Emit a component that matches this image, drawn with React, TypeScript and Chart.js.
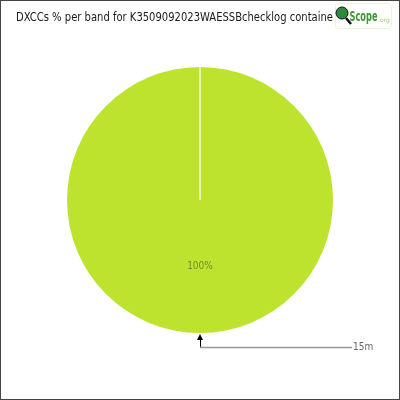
import React, { useEffect, useRef } from "react";
import { Chart, registerables } from "chart.js";

Chart.register(...registerables);

const bands: string[] = ["15m"];
const percents: number[] = [100];
const sliceColors: string[] = ["#bee32f"];
const titleText = "DXCCs % per band for K3509092023WAESSBchecklog containe";

function fitText(ctx: CanvasRenderingContext2D, text: string, x: number, y: number, width: number) {
  const w = ctx.measureText(text).width;
  ctx.save();
  ctx.translate(x, y);
  ctx.scale(width / w, 1);
  ctx.fillText(text, 0, 0);
  ctx.restore();
}

const overlay = {
  id: "overlay",
  afterDraw(chart: any) {
    const ctx = chart.ctx as CanvasRenderingContext2D;
    const meta = chart.getDatasetMeta(0);
    const arc = meta.data[0] as any;
    if (!arc) return;
    const { x, y, outerRadius, startAngle } = arc.getProps(["x", "y", "outerRadius", "startAngle"], true);
    ctx.save();
    // white seam from centre to start
    ctx.strokeStyle = "#ffffff";
    ctx.lineWidth = 1.2;
    ctx.beginPath();
    ctx.moveTo(x, y);
    ctx.lineTo(x + Math.cos(startAngle) * outerRadius, y + Math.sin(startAngle) * outerRadius);
    ctx.stroke();

    // percent label
    ctx.fillStyle = "#6f8f2a";
    ctx.font = "10px 'DejaVu Sans Condensed', 'DejaVu Sans', sans-serif";
    ctx.textAlign = "center";
    ctx.textBaseline = "middle";
    ctx.fillText(percents[0] + "%", x, y + outerRadius * 0.5);

    // annotation arrow
    const bx = x;
    const by = y + outerRadius + 1;
    ctx.fillStyle = "#000";
    ctx.beginPath();
    ctx.moveTo(bx, by);
    ctx.lineTo(bx - 3, by + 6);
    ctx.lineTo(bx + 3, by + 6);
    ctx.closePath();
    ctx.fill();
    ctx.strokeStyle = "#000";
    ctx.lineWidth = 1;
    ctx.beginPath();
    ctx.moveTo(bx + 0.5, by + 6);
    ctx.lineTo(bx + 0.5, by + 14);
    ctx.stroke();
    ctx.strokeStyle = "#999";
    ctx.lineWidth = 1.5;
    ctx.beginPath();
    ctx.moveTo(bx, by + 13.5);
    ctx.lineTo(bx + 152, by + 13.5);
    ctx.stroke();
    ctx.fillStyle = "#666";
    ctx.textAlign = "left";
    ctx.font = "10px 'DejaVu Sans Condensed', 'DejaVu Sans', sans-serif";
    ctx.fillText(bands[0], bx + 153, by + 13.5);

    // title
    ctx.fillStyle = "#1a1a1a";
    ctx.font = "12.5px 'DejaVu Sans Condensed', 'DejaVu Sans', sans-serif";
    ctx.textAlign = "left";
    ctx.textBaseline = "middle";
    fitText(ctx, titleText, 15, 16.5, 317);

    // logo
    ctx.fillStyle = "#ffffff";
    ctx.strokeStyle = "#eef3d8";
    ctx.lineWidth = 1;
    ctx.beginPath();
    ctx.roundRect(334.5, 2.5, 56, 25, 3);
    ctx.fill();
    ctx.stroke();
    ctx.strokeStyle = "#111";
    ctx.lineWidth = 2.5;
    ctx.beginPath();
    ctx.moveTo(345, 17);
    ctx.lineTo(350, 23);
    ctx.stroke();
    ctx.fillStyle = "#2e8a3a";
    ctx.beginPath();
    ctx.arc(341, 12, 6, 0, Math.PI * 2);
    ctx.fill();
    ctx.strokeStyle = "#113";
    ctx.lineWidth = 1;
    ctx.stroke();
    ctx.fillStyle = "#3a9a2e";
    ctx.font = "bold 14px 'DejaVu Sans Condensed', 'DejaVu Sans', sans-serif";
    ctx.textBaseline = "alphabetic";
    fitText(ctx, "Scope", 348.5, 20, 28);
    ctx.fillStyle = "#9ccf70";
    ctx.font = "6px 'DejaVu Sans', sans-serif";
    ctx.fillText(".org", 377, 21);
    ctx.restore();
  },
};

export default function App() {
  const ref = useRef<HTMLCanvasElement>(null);
  useEffect(() => {
    document.body.style.margin = "0";
    const chart = new Chart(ref.current!, {
      type: "pie",
      data: {
        labels: bands,
        datasets: [
          {
            data: percents,
            backgroundColor: sliceColors,
            borderWidth: 0,
          },
        ],
      },
      options: {
        animation: false,
        responsive: false,
        maintainAspectRatio: false,
        layout: { padding: { top: 66, bottom: 66, left: 20, right: 20 } },
        plugins: {
          legend: { display: false },
          title: { display: false },
          tooltip: { enabled: false },
        },
      },
      plugins: [overlay],
    });
    return () => chart.destroy();
  }, []);
  return (
    <div style={{ width: 398, height: 398, border: "1px solid #444", background: "#fff" }}>
      <canvas ref={ref} width={398} height={398} style={{ display: "block" }} />
    </div>
  );
}
